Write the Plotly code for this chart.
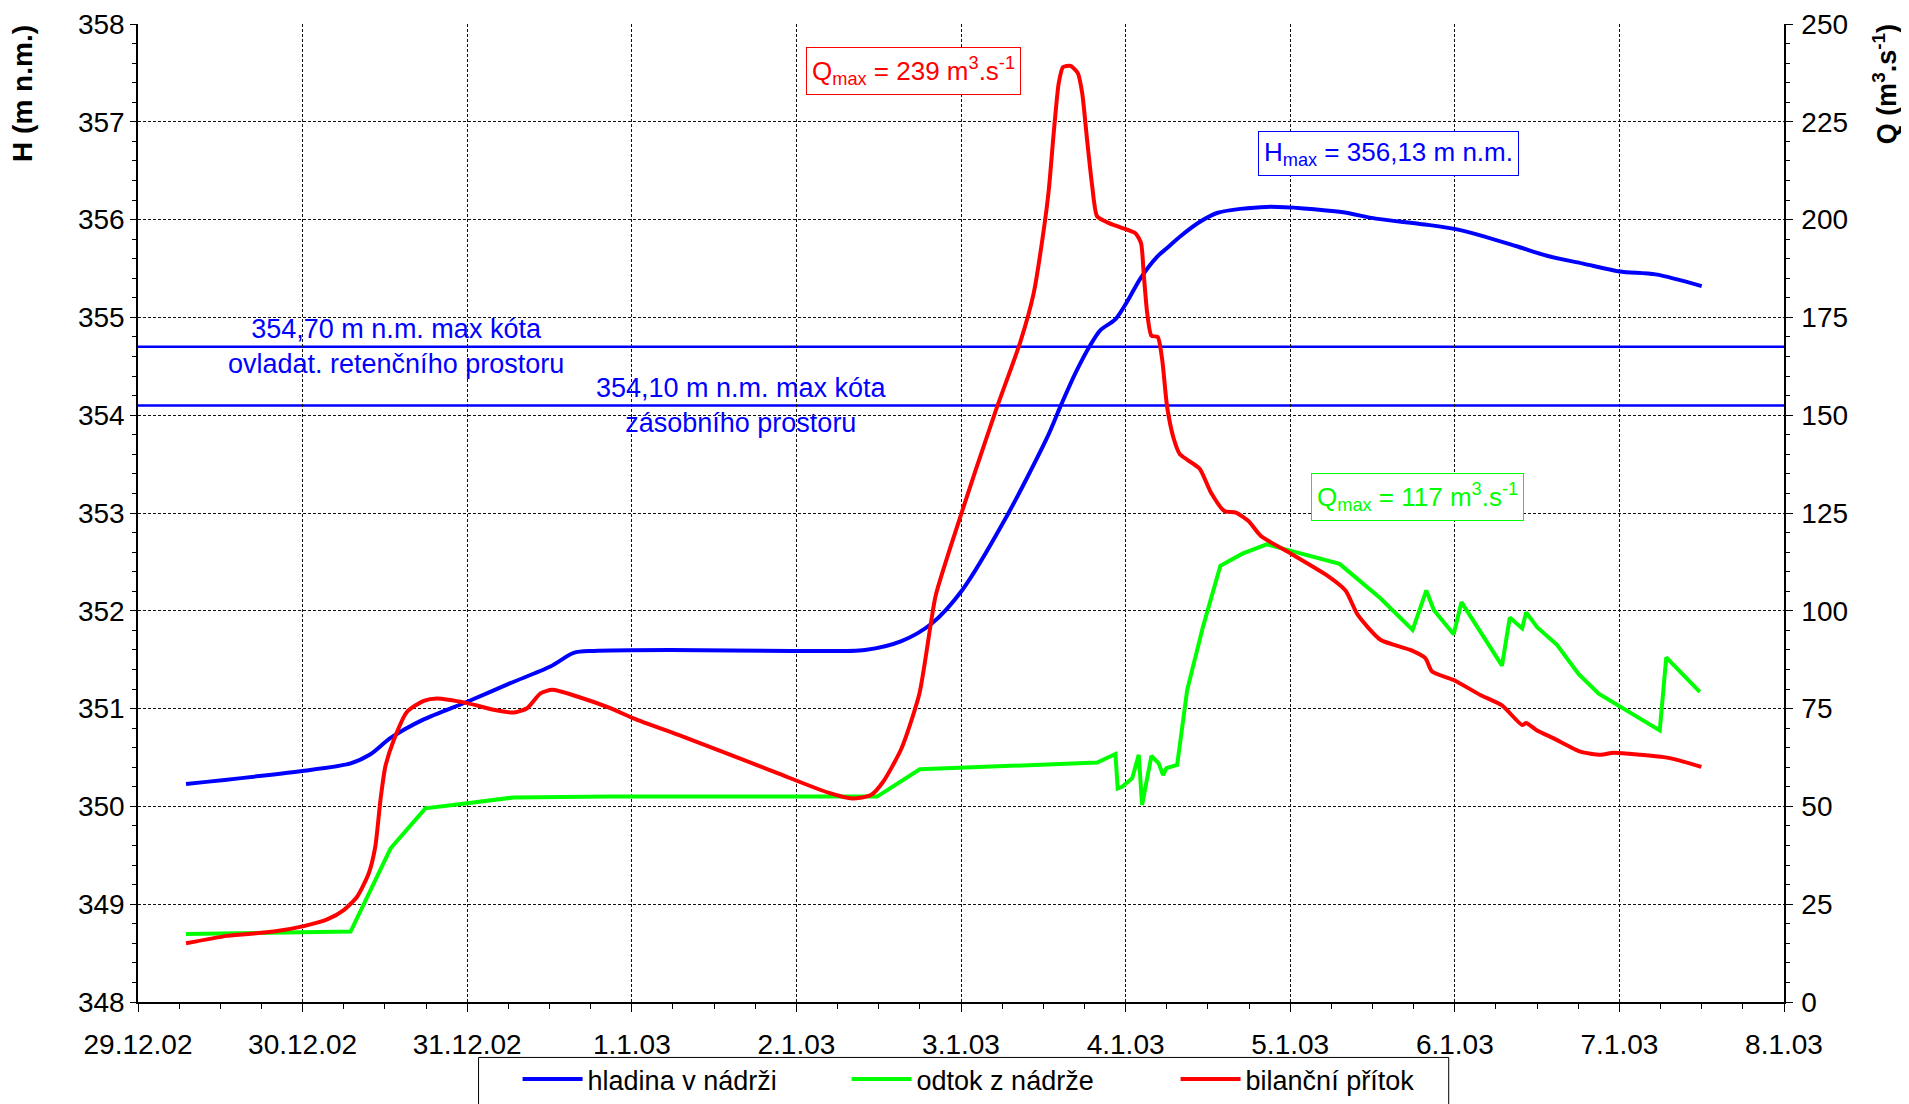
import plotly.graph_objects as go

FONT = "Liberation Sans, Arial, sans-serif"

# --- hladina v nádrži (H, m n.m.) ---
h_time = ["2002-12-29 07:00", "2002-12-29 23:40", "2002-12-30 07:00", "2002-12-30 09:50",
          "2002-12-30 12:50", "2002-12-30 17:40", "2002-12-31 00:00", "2002-12-31 06:17",
          "2002-12-31 12:07", "2002-12-31 15:32", "2002-12-31 18:26", "2003-01-01 05:34",
          "2003-01-01 23:20", "2003-01-02 10:00", "2003-01-02 15:19", "2003-01-02 19:44",
          "2003-01-03 00:10", "2003-01-03 06:23", "2003-01-03 12:33", "2003-01-03 14:30",
          "2003-01-03 16:41", "2003-01-03 18:53", "2003-01-03 20:20", "2003-01-03 22:30",
          "2003-01-04 00:13", "2003-01-04 02:10", "2003-01-04 04:35", "2003-01-04 06:03",
          "2003-01-04 08:00", "2003-01-04 10:54", "2003-01-04 13:26", "2003-01-04 20:34",
          "2003-01-05 07:12", "2003-01-05 12:29", "2003-01-05 19:41", "2003-01-06 00:58",
          "2003-01-06 08:53", "2003-01-06 13:26", "2003-01-06 18:43", "2003-01-07 00:00",
          "2003-01-07 05:17", "2003-01-07 12:00"]
h_value = [350.23, 350.36, 350.44, 350.53, 350.70, 350.89, 351.07, 351.26,
           351.43, 351.57, 351.59, 351.60, 351.59, 351.60, 351.69, 351.87,
           352.21, 352.93, 353.77, 354.09, 354.43, 354.72, 354.87, 354.98,
           355.16, 355.40, 355.62, 355.71, 355.83, 355.98, 356.07, 356.13,
           356.08, 356.01, 355.95, 355.89, 355.73, 355.63, 355.55, 355.47,
           355.44, 355.32]

# --- odtok z nádrže (Q, m3/s) ---
out_time = ["2002-12-29 07:00", "2002-12-30 07:00", "2002-12-30 12:50", "2002-12-30 17:54",
            "2002-12-31 00:00", "2002-12-31 06:48", "2002-12-31 20:53", "2003-01-02 11:46",
            "2003-01-02 18:00", "2003-01-03 19:51", "2003-01-03 22:31", "2003-01-03 22:51",
            "2003-01-03 23:30", "2003-01-04 00:58", "2003-01-04 01:55", "2003-01-04 02:24",
            "2003-01-04 03:46", "2003-01-04 04:49", "2003-01-04 05:28", "2003-01-04 05:57",
            "2003-01-04 07:31", "2003-01-04 08:59", "2003-01-04 11:17", "2003-01-04 13:49",
            "2003-01-04 17:02", "2003-01-04 20:34", "2003-01-05 07:12", "2003-01-05 13:09",
            "2003-01-05 17:51", "2003-01-05 19:51", "2003-01-05 20:56", "2003-01-05 23:50",
            "2003-01-06 00:58", "2003-01-06 06:53", "2003-01-06 08:01", "2003-01-06 09:49",
            "2003-01-06 10:24", "2003-01-06 12:00", "2003-01-06 14:54", "2003-01-06 18:04",
            "2003-01-06 20:59", "2003-01-07 05:53", "2003-01-07 06:50", "2003-01-07 11:43"]
out_value = [17.4, 18.0, 39.3, 49.5,
             50.8, 52.3, 52.5, 52.5,
             59.5, 61.2, 63.4, 54.6,
             55.0, 57.2, 63.2, 50.4,
             62.9, 61.0, 58.0, 59.8,
             60.6, 79.8, 95.9, 111.5,
             114.6, 117.0, 112.0, 103.2,
             95.1, 105.2, 100.2, 94.0,
             102.2, 86.0, 98.3, 95.5,
             99.6, 95.8, 91.3, 83.8,
             78.8, 69.4, 88.1, 79.3]

# --- bilanční přítok (Q, m3/s) ---
in_time = ["2002-12-29 07:00", "2002-12-29 13:00", "2002-12-29 19:48", "2002-12-30 00:10",
           "2002-12-30 03:35", "2002-12-30 06:00", "2002-12-30 07:57", "2002-12-30 09:39",
           "2002-12-30 10:36", "2002-12-30 11:21", "2002-12-30 12:04", "2002-12-30 13:18",
           "2002-12-30 15:14", "2002-12-30 17:40", "2002-12-30 19:36", "2002-12-31 00:00",
           "2002-12-31 03:52", "2002-12-31 06:48", "2002-12-31 08:44", "2002-12-31 10:41",
           "2002-12-31 12:23", "2002-12-31 16:02", "2002-12-31 20:53", "2003-01-01 00:14",
           "2003-01-01 07:22", "2003-01-01 14:24", "2003-01-01 21:32", "2003-01-02 04:39",
           "2003-01-02 08:10", "2003-01-02 10:52", "2003-01-02 12:39", "2003-01-02 15:19",
           "2003-01-02 17:56", "2003-01-02 20:17", "2003-01-02 22:25", "2003-01-03 01:55",
           "2003-01-03 05:02", "2003-01-03 08:40", "2003-01-03 10:36", "2003-01-03 12:04",
           "2003-01-03 12:48", "2003-01-03 13:31", "2003-01-03 14:15", "2003-01-03 14:53",
           "2003-01-03 15:58", "2003-01-03 17:01", "2003-01-03 17:40", "2003-01-03 18:23",
           "2003-01-03 19:08", "2003-01-03 19:51", "2003-01-03 21:19", "2003-01-03 23:14",
           "2003-01-04 01:26", "2003-01-04 02:15", "2003-01-04 02:38", "2003-01-04 03:09",
           "2003-01-04 03:46", "2003-01-04 04:41", "2003-01-04 05:20", "2003-01-04 06:03",
           "2003-01-04 07:00", "2003-01-04 07:55", "2003-01-04 09:00", "2003-01-04 10:48",
           "2003-01-04 12:29", "2003-01-04 14:24", "2003-01-04 16:05", "2003-01-04 17:53",
           "2003-01-04 19:41", "2003-01-05 00:07", "2003-01-05 05:25", "2003-01-05 08:04",
           "2003-01-05 09:50", "2003-01-05 13:09", "2003-01-05 17:31", "2003-01-05 19:42",
           "2003-01-05 20:41", "2003-01-05 23:50", "2003-01-06 03:43", "2003-01-06 06:53",
           "2003-01-06 09:49", "2003-01-06 10:24", "2003-01-06 12:00", "2003-01-06 14:25",
           "2003-01-06 18:19", "2003-01-06 21:14", "2003-01-06 23:10", "2003-01-07 03:04",
           "2003-01-07 06:29", "2003-01-07 08:24", "2003-01-07 11:57"]
in_value = [15.0, 16.9, 18.0, 19.4,
            21.1, 23.5, 26.9, 32.9,
            39.7, 51.6, 60.2, 67.0,
            74.2, 77.0, 77.6, 76.4,
            74.7, 74.0, 75.1, 78.9,
            79.8, 78.1, 75.1, 72.5,
            67.9, 63.2, 58.3, 53.5,
            52.0, 52.9, 56.3, 64.8,
            78.8, 103.7, 116.0, 134.8,
            151.0, 168.8, 181.2, 197.4,
            207.6, 222.1, 234.9, 239.0,
            239.3, 237.5, 232.4, 220.4,
            208.5, 200.8, 199.3, 198.0,
            196.5, 194.0, 186.3, 176.1,
            170.3, 170.0, 164.2, 152.2,
            144.1, 140.0, 138.6, 136.3,
            130.1, 125.5, 125.1, 123.0,
            119.2, 114.6, 109.0, 105.2,
            99.0, 92.6, 90.0, 87.9,
            84.5, 82.3, 78.5, 75.8,
            70.8, 71.3, 69.4, 67.4,
            64.0, 63.2, 63.7, 63.2,
            62.6, 61.9, 60.1]

level_retention = 354.70
level_storage = 354.10

BLUE = "#0000FF"
GREEN = "#00FF00"
RED = "#FF0000"

fig = go.Figure()
fig.add_trace(go.Scatter(x=h_time, y=h_value, name="hladina v nádrži", mode="lines",
                         line=dict(color=BLUE, width=4, shape="spline", smoothing=0.8),
                         yaxis="y"))
fig.add_trace(go.Scatter(x=out_time, y=out_value, name="odtok z nádrže", mode="lines",
                         line=dict(color=GREEN, width=4), yaxis="y2"))
fig.add_trace(go.Scatter(x=in_time, y=in_value, name="bilanční přítok", mode="lines",
                         line=dict(color=RED, width=4, shape="spline", smoothing=0.6),
                         yaxis="y2"))

for lvl in (level_retention, level_storage):
    fig.add_shape(type="line", xref="paper", x0=0, x1=1, yref="y", y0=lvl, y1=lvl,
                  line=dict(color=BLUE, width=2.5), layer="between")

# legend frame (cut by the bottom edge, as in the original)
fig.add_shape(type="rect", xref="paper", yref="paper", x0=0.2069, x1=0.7963,
              y0=-0.0567, y1=-0.14, line=dict(color="black", width=1),
              fillcolor="rgba(0,0,0,0)", layer="above")

grid = dict(showgrid=True, gridcolor="#111111", griddash="3px,2px", gridwidth=1)

fig.update_layout(
    width=1901, height=1096,
    margin=dict(l=130, r=125, t=16, b=102, autoexpand=False),
    paper_bgcolor="white", plot_bgcolor="white",
    font=dict(family=FONT, size=28, color="black"),
    showlegend=True,
    legend=dict(orientation="h", x=0.2306, xanchor="left", xref="paper",
                y=0.0447, yanchor="top", yref="container",
                borderwidth=0, bgcolor="rgba(0,0,0,0)",
                font=dict(size=27), itemwidth=60, entrywidth=254,
                tracegroupgap=0),
    xaxis=dict(type="date", range=["2002-12-29", "2003-01-08"], dtick=86400000,
               tick0="2002-12-29", tickformat="%-d.%-m.%y",
               ticks="outside", ticklen=8, tickcolor="black", tickwidth=1,
               showline=True, linecolor="black", linewidth=1.5, mirror=False,
               ticklabelstandoff=9,
               minor=dict(dtick=21600000, ticks="outside", ticklen=5, tickcolor="black",
                          showgrid=False),
               zeroline=False, **grid),
    yaxis=dict(range=[348, 358], dtick=1, ticks="outside", ticklen=6, tickcolor="black",
               showline=True, linecolor="black", linewidth=1.5, ticklabelstandoff=0,
               minor=dict(dtick=0.2, ticks="outside", ticklen=4, tickcolor="black",
                          showgrid=False),
               zeroline=False, **grid),
    yaxis2=dict(range=[0, 250], dtick=25, overlaying="y", side="right",
                ticks="outside", ticklen=7, tickcolor="black",
                showline=True, linecolor="black", linewidth=1.5, ticklabelstandoff=3,
                minor=dict(dtick=5, ticks="outside", ticklen=4, tickcolor="black",
                           showgrid=False),
                showgrid=False, zeroline=False),
)

center = dict(xanchor="center", yanchor="middle", showarrow=False)
annotations = [
    # axis titles
    dict(text="<b>H (m n.m.)</b>", xref="paper", yref="paper", x=-0.0702, y=0.929,
         textangle=-90, font=dict(size=28), **center),
    dict(text="<b>Q (m<sup>3</sup>.s<sup>-1</sup>)</b>", xref="paper", yref="paper",
         x=1.0612, y=0.938, textangle=-90, font=dict(size=27), **center),
    # level labels
    dict(text="354,70 m n.m. max kóta<br>ovladat. retenčního prostoru", xref="paper",
         yref="y", x=0.157, y=level_retention,
         font=dict(size=27, color=BLUE), align="center", **center),
    dict(text="354,10 m n.m. max kóta<br>zásobního prostoru", xref="paper",
         yref="y", x=0.3666, y=level_storage,
         font=dict(size=27, color=BLUE), align="center", **center),
    # boxes
    dict(text="Q<sub>max</sub> = 239 m<sup>3</sup>.s<sup>-1</sup>", xref="paper", yref="paper",
         x=0.4711, y=0.952, font=dict(size=26, color=RED),
         bgcolor="white", bordercolor=RED, borderwidth=1, borderpad=5, **center),
    dict(text="H<sub>max</sub> = 356,13 m n.m.", xref="paper", yref="paper",
         x=0.7596, y=0.868, font=dict(size=26, color=BLUE),
         bgcolor="white", bordercolor=BLUE, borderwidth=1, borderpad=5, **center),
    dict(text="Q<sub>max</sub> = 117 m<sup>3</sup>.s<sup>-1</sup>", xref="paper", yref="paper",
         x=0.7773, y=0.516, font=dict(size=26, color=GREEN),
         bgcolor="white", bordercolor=GREEN, borderwidth=1, borderpad=5, **center),
]
fig.update_layout(annotations=annotations)

fig.write_html("out.html")
